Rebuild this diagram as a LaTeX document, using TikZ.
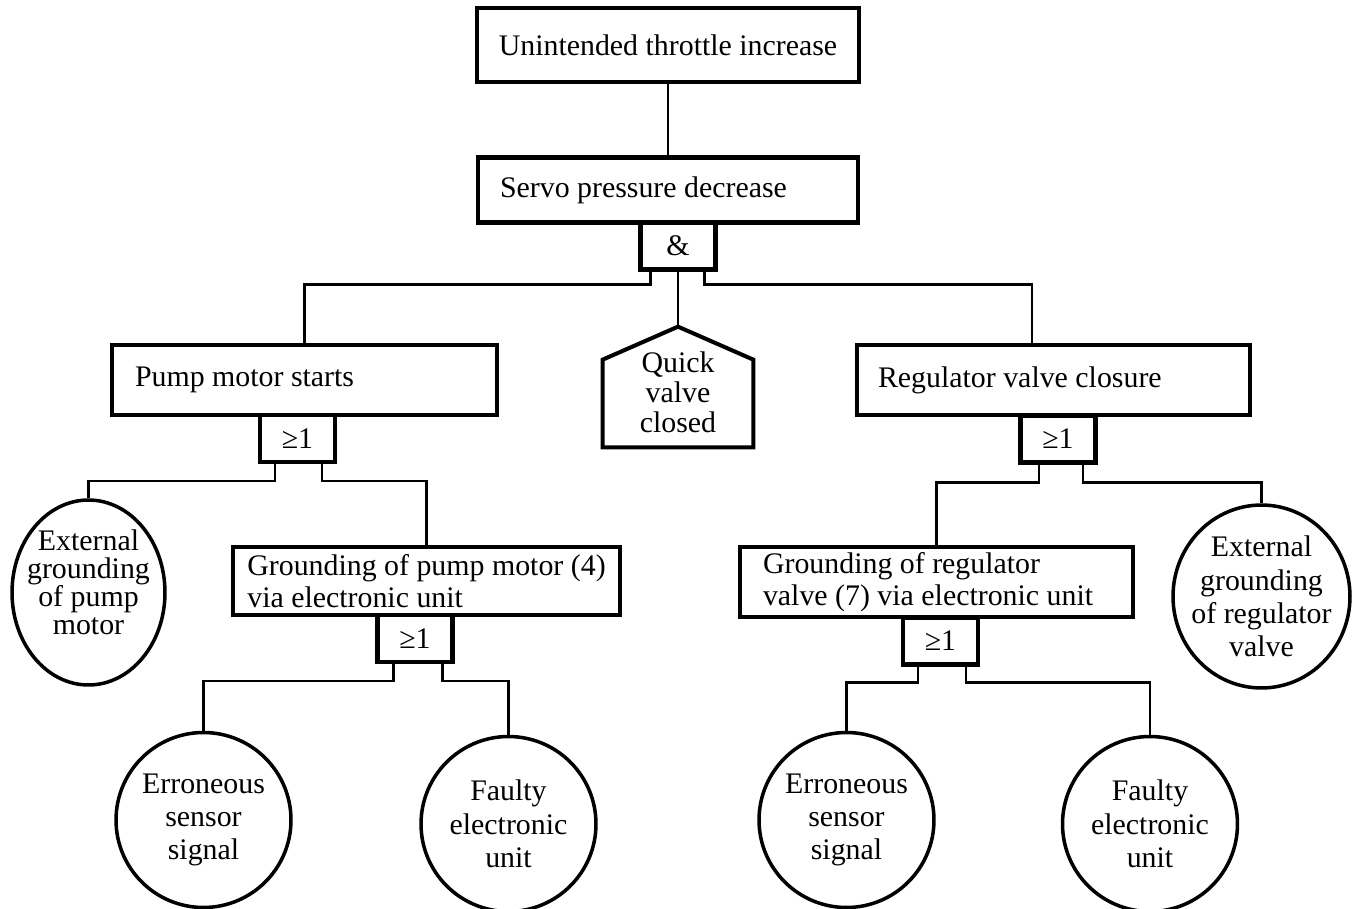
\documentclass[tikz,border=0pt]{standalone}
\usepackage{fontspec}
\setmainfont{Liberation Serif}
\usetikzlibrary{shapes.geometric}

\begin{document}
\begin{tikzpicture}[x=0.02cm,y=-0.02cm,
  every node/.style={font=\fontsize{17}{18}\selectfont},
  ereignis/.style={draw, line width=2.3pt, minimum height=1.36cm, inner ysep=0pt, align=flush left},
  gatter/.style={draw, line width=2.3pt, minimum width=1.5cm, minimum height=0.94cm, inner sep=0pt},
  kreis/.style={ellipse, draw, line width=2pt, inner sep=0pt},
  beschr/.style={align=center, font=\fontsize{17}{19}\selectfont},
  linie/.style={line width=1.6pt}]
\useasboundingbox (0,0) rectangle (1353,909);
% obere Ebene
\node  [ereignis, minimum width=7.64cm, minimum height=1.48cm] (T) at (668,45){Unintended throttle increase};
\node  [ereignis, minimum height=1.3cm, text width=6.72cm, inner xsep=0.44cm] (S) at (668,190){Servo pressure decrease};
\node  [gatter] (U) at (678,246){\&};
% mittlere Ebene
\node  [ereignis, minimum height=1.4cm, text width=6.78cm, inner xsep=0.46cm] (P) at (304.5,380){Pump motor starts};
\node  [inner sep=0pt, minimum width=3cm, minimum height=2.4cm, align=center, font=\fontsize{17}{17}\selectfont] (Q) at (678,392){Quick\\valve\\closed};
\node  [ereignis, minimum height=1.4cm, text width=7.02cm, inner xsep=0.42cm] (R) at (1053.5,380){Regulator valve closure};
\node  [gatter] (O1) at (297.5,438.5){≥1};
\node  [gatter] (O2) at (1058,439){≥1};
% untere Ebene
\node  [kreis, minimum width=3.06cm, minimum height=3.7cm, label={[beschr, font=\fontsize{17}{16}\selectfont, yshift=0.2cm]center:External\\grounding\\of pump\\motor}] (E1) at (88.5,592.5){};
\node  [ereignis, minimum width=7.74cm, minimum height=1.36cm, inner xsep=0.2cm] (GP) at (426.5,581){Grounding of pump motor (4)\\via electronic unit};
\node  [ereignis, minimum height=1.4cm, text width=6.94cm, inner xsep=0.46cm] (GR) at (936.5,582){Grounding of regulator\\valve (7) via electronic unit};
\node  [kreis, minimum width=3.54cm, minimum height=3.66cm, label={[beschr]center:External\\grounding\\of regulator\\valve}] (E2) at (1261.5,596.5){};
\node  [gatter] (O3) at (415,638.5){≥1};
\node  [gatter] (O4) at (940.5,641){≥1};
\node  [kreis, minimum width=3.5cm, minimum height=3.5cm, label={[beschr]center:Erroneous\\sensor\\signal}] (EL) at (203.5,820){};
\node  [kreis, minimum width=3.5cm, minimum height=3.5cm, label={[beschr]center:Faulty\\electronic\\unit}] (FL) at (508.5,824){};
\node  [kreis, minimum width=3.5cm, minimum height=3.5cm, label={[beschr]center:Erroneous\\sensor\\signal}] (ER) at (846.5,820){};
\node  [kreis, minimum width=3.5cm, minimum height=3.5cm, label={[beschr]center:Faulty\\electronic\\unit}] (FR) at (1150,824){};
% Haus (um 5px nach oben gegen den Text versetzt)
\coordinate (QS) at ([yshift=0.1cm]Q.north);
\draw [line width=2.3pt, line join=miter] ([yshift=0.1cm]Q.south west) -- ([yshift=0.1cm]Q.south east) -- ([yshift=-0.56cm]Q.north east) -- (QS) -- ([yshift=-0.56cm]Q.north west) -- cycle;
% Verbindungen
\draw [linie] (T) -- (S);
\draw [linie] (U.south) -- (QS);
\draw [linie] ([xshift=0.24cm]U.south west) -- ++(0,13) -| (P.north);
\draw [linie] ([xshift=-0.26cm]U.south east) -- ++(0,13) -| ([xshift=-0.43cm]R.north);
\draw [linie] ([xshift=0.34cm]O1.south west) -- ++(0,17) -| (E1.north);
\draw [linie] ([xshift=-0.3cm]O1.south east) -- ++(0,17) -| (GP.north);
\draw [linie] ([xshift=0.41cm]O2.south west) -- ++(0,18) -| (GR.north);
\draw [linie] ([xshift=-0.29cm]O2.south east) -- ++(0,18) -| (E2.north);
\draw [linie] ([xshift=0.36cm]O3.south west) -- ++(0,17) -| (EL.north);
\draw [linie] ([xshift=-0.24cm]O3.south east) -- ++(0,17) -| (FL.north);
\draw [linie] ([xshift=0.34cm]O4.south west) -- ++(0,16) -| (ER.north);
\draw [linie] ([xshift=-0.28cm]O4.south east) -- ++(0,16) -| (FR.north);
\end{tikzpicture}
\end{document}
